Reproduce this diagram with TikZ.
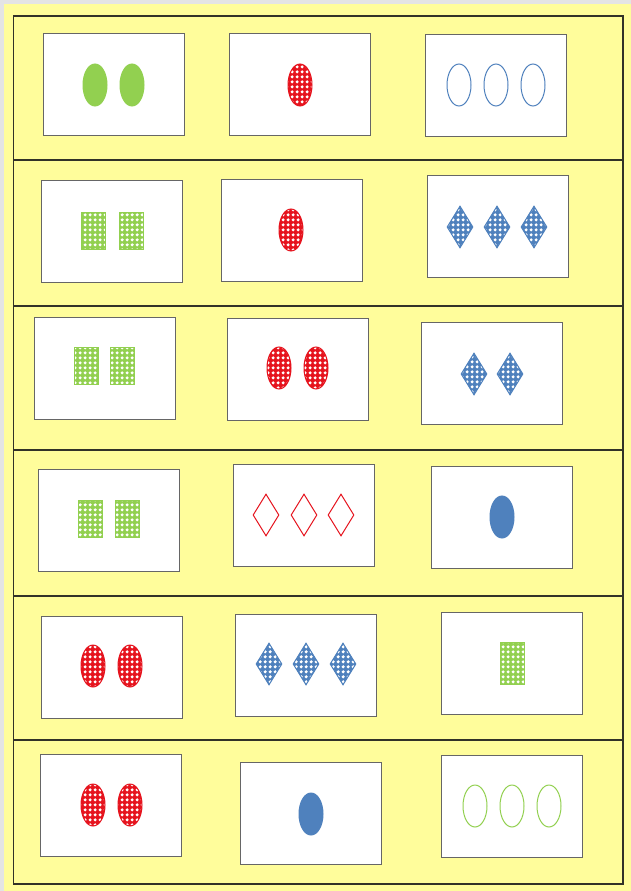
\documentclass[tikz,border=0pt]{standalone}
\usetikzlibrary{shapes.geometric,patterns}
\definecolor{bggray}{RGB}{228,228,228}
\definecolor{paper}{RGB}{255,253,155}
\definecolor{frame}{RGB}{50,50,40}
\definecolor{cgreen}{RGB}{146,208,80}
\definecolor{cred}{RGB}{230,20,30}
\definecolor{cblue}{RGB}{79,129,189}
\pgfdeclarepatternformonly{wdots}{\pgfqpoint{0pt}{0pt}}{\pgfqpoint{4.6pt}{4.6pt}}{\pgfqpoint{4.6pt}{4.6pt}}{%
  \pgfpathcircle{\pgfqpoint{2.3pt}{2.3pt}}{1.8pt}%
  \pgfusepath{fill}}
\tikzset{
  card/.style={draw=black!60, line width=0.7pt, fill=white, minimum width=141pt, minimum height=102pt, inner sep=0pt},
  ell/.style={ellipse, minimum width=24pt, minimum height=42pt, inner sep=0pt, line width=1pt},
  rct/.style={rectangle, minimum width=24pt, minimum height=37pt, inner sep=0pt, line width=1pt},
  dia/.style={diamond, minimum width=26pt, minimum height=42pt, inner sep=0pt, line width=1pt},
  solidG/.style={fill=cgreen, draw=cgreen},
  solidB/.style={fill=cblue, draw=cblue},
  openB/.style={draw=cblue},
  openG/.style={draw=cgreen},
  openR/.style={draw=cred},
  checkR/.style={draw=cred, preaction={fill=cred}, pattern=wdots, pattern color=white},
  checkG/.style={draw=cgreen, preaction={fill=cgreen}, pattern=wdots, pattern color=white},
  checkB/.style={draw=cblue, preaction={fill=cblue}, pattern=wdots, pattern color=white},
  rowline/.style={draw=frame, line width=1.6pt}
}
\begin{document}
\begin{tikzpicture}[x=1pt,y=-1pt]
\useasboundingbox (0,0) rectangle (631,891);
\fill[bggray] (0,0) rectangle (631,891);
\fill[paper] (4,4) rectangle (631,891);
% frame and rows
\draw[rowline] (13.5,16) rectangle (623,884);
\foreach \yy in {160,306,450,596,740} \draw[rowline] (13.5,\yy) -- (623,\yy);
% cards
\node[card] (c11) at (113.5,84) {};
\node[card] (c12) at (300,84) {};
\node[card] (c13) at (496,85.5) {};
\node[card] (c21) at (112,231.5) {};
\node[card] (c22) at (291.5,230.5) {};
\node[card] (c23) at (497.5,226.5) {};
\node[card] (c31) at (104.5,368) {};
\node[card] (c32) at (298,369) {};
\node[card] (c33) at (492,373) {};
\node[card] (c41) at (109,520) {};
\node[card] (c42) at (304,515) {};
\node[card] (c43) at (502,517) {};
\node[card] (c51) at (111.5,667) {};
\node[card] (c52) at (306,665) {};
\node[card] (c53) at (511.5,663) {};
\node[card] (c61) at (110.5,805) {};
\node[card] (c62) at (311,813.5) {};
\node[card] (c63) at (512,806) {};
% row 1
\node[ell,solidG] (s11a) at (95,85) {};
\node[ell,solidG] (s11b) at (132,85) {};
\node[ell,checkR] (s12a) at (300,85) {};
\node[ell,openB] (s13a) at (459,85) {};
\node[ell,openB] (s13b) at (496,85) {};
\node[ell,openB] (s13c) at (533,85) {};
% row 2
\node[rct,checkG] (s21a) at (93,231) {};
\node[rct,checkG] (s21b) at (131,231) {};
\node[ell,checkR] (s22a) at (291,230) {};
\node[dia,checkB] (s23a) at (460,227) {};
\node[dia,checkB] (s23b) at (497,227) {};
\node[dia,checkB] (s23c) at (534,227) {};
% row 3
\node[rct,checkG] (s31a) at (86,366) {};
\node[rct,checkG] (s31b) at (122.5,366) {};
\node[ell,checkR] (s32a) at (279,368) {};
\node[ell,checkR] (s32b) at (316,368) {};
\node[dia,checkB] (s33a) at (474,374) {};
\node[dia,checkB] (s33b) at (510,374) {};
% row 4
\node[rct,checkG] (s41a) at (90,519) {};
\node[rct,checkG] (s41b) at (127,519) {};
\node[dia,openR] (s42a) at (266,515) {};
\node[dia,openR] (s42b) at (304,515) {};
\node[dia,openR] (s42c) at (341,515) {};
\node[ell,solidB] (s43a) at (502,517) {};
% row 5
\node[ell,checkR] (s51a) at (93,666) {};
\node[ell,checkR] (s51b) at (130,666) {};
\node[dia,checkB] (s52a) at (269,664) {};
\node[dia,checkB] (s52b) at (306,664) {};
\node[dia,checkB] (s52c) at (343,664) {};
\node[rct,checkG,minimum height=42pt] (s53a) at (512,663) {};
% row 6
\node[ell,checkR] (s61a) at (93,805) {};
\node[ell,checkR] (s61b) at (130,805) {};
\node[ell,solidB] (s62a) at (311,814) {};
\node[ell,openG] (s63a) at (475,806) {};
\node[ell,openG] (s63b) at (512,806) {};
\node[ell,openG] (s63c) at (549,806) {};
\end{tikzpicture}
\end{document}
